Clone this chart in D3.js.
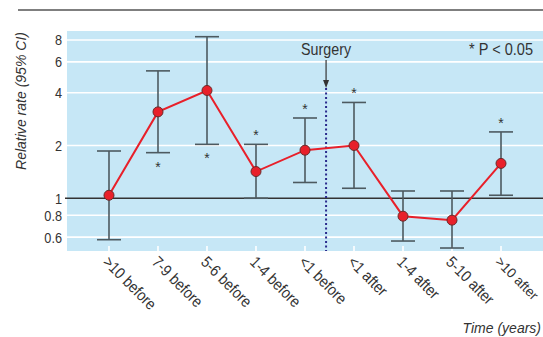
<!DOCTYPE html>
<html><head><meta charset="utf-8">
<script src="https://cdn.jsdelivr.net/npm/d3@7"></script>
<style>
body{margin:0;background:#fff;}
text{font-family:"Liberation Sans Narrow","Liberation Sans",Arial,sans-serif;fill:#333;}
</style></head>
<body><svg id="c" width="543" height="337"></svg>
<script>
const categories = [">10 before","7-9 before","5-6 before","1-4 before","<1 before","<1 after","1-4 after","5-10 after",">10 after"];
const rate  = [1.04, 3.11, 4.12, 1.42, 1.88, 2.00, 0.79, 0.75, 1.58];
const lower = [0.58, 1.82, 2.03, 1.00, 1.23, 1.14, 0.57, 0.52, 1.04];
const upper = [1.86, 5.33, 8.35, 2.03, 2.87, 3.52, 1.10, 1.10, 2.39];
const signif = ["", "below", "below", "above", "above", "above", "", "", "above"];
const yTicks = [0.6, 0.8, 1, 2, 4, 6, 8];
const yTickLabels = ["0.6","0.8","1","2","4","6","8"];
const surgeryAfterIndex = 4, surgeryFraction = 0.43;

const svg = d3.select("#c");
const L = 67, R = 543, T = 31, B = 251;
const x = d3.scalePoint().domain(categories).range([L, R]).padding(0.857);
const y = d3.scaleLog().domain([0.5, 9]).range([B, T]);

function condense(sel, f){
  sel.each(function(){
    const w = this.getComputedTextLength();
    this.setAttribute("textLength", w*f);
    this.setAttribute("lengthAdjust","spacingAndGlyphs");
  });
}
function fitTo(sel, w){
  return sel.attr("textLength", w).attr("lengthAdjust","spacingAndGlyphs");
}

// top rule
svg.append("line").attr("x1",18).attr("x2",543).attr("y1",10).attr("y2",10)
  .attr("stroke","#555").attr("stroke-width",1.6);

// background
svg.append("rect").attr("x",L).attr("y",T).attr("width",R-L).attr("height",B-T).attr("fill","#c6e7f6");

// gridlines
svg.selectAll(".grid").data(yTicks.filter(d=>d!==1)).enter().append("line")
  .attr("x1",L).attr("x2",R).attr("y1",d=>y(d)).attr("y2",d=>y(d))
  .attr("stroke","#fff").attr("stroke-width",1.6);

// y axis labels
const yAxis = d3.axisLeft(y).tickValues(yTicks).tickFormat((d,i)=>yTickLabels[i]).tickSize(0).tickPadding(5);
const ga = svg.append("g").attr("transform",`translate(${L},0)`).call(yAxis);
ga.select(".domain").remove();
ga.selectAll("text").attr("font-size",15.5).attr("fill","#333")
  .style("font-family",'"Liberation Sans Narrow","Liberation Sans",Arial,sans-serif');
condense(ga.selectAll("text"), 0.82);

// reference line at 1
svg.append("line").attr("x1",L-2).attr("x2",R).attr("y1",y(1)).attr("y2",y(1))
  .attr("stroke","#333").attr("stroke-width",1.4);

// x axis ticks (white) + labels
svg.selectAll(".xt").data(categories).enter().append("line")
  .attr("x1",d=>x(d)).attr("x2",d=>x(d)).attr("y1",B-5).attr("y2",B)
  .attr("stroke","#fff").attr("stroke-width",1.6);
const xl = svg.selectAll(".xl").data(categories).enter().append("text")
  .attr("transform",d=>`translate(${x(d)-4},${B+9}) rotate(45)`)
  .attr("font-size",16).attr("text-anchor","start").attr("dominant-baseline","middle")
  .text(d=>d);
xl.each(function(d){
  const x0 = x(d) - 4;
  const maxLen = (541 - x0) / Math.SQRT1_2 - 8;
  const natural = this.getComputedTextLength();
  if (natural * 0.88 > maxLen) {
    // shrink the font so the label stays inside the picture
    this.setAttribute("font-size", 16 * maxLen / natural);
  } else {
    this.setAttribute("textLength", natural * 0.88);
    this.setAttribute("lengthAdjust","spacingAndGlyphs");
  }
});

// surgery line
const sx = x(categories[surgeryAfterIndex]) + surgeryFraction * x.step();
svg.append("line").attr("x1",sx).attr("x2",sx).attr("y1",88).attr("y2",B)
  .attr("stroke","#2a2a8c").attr("stroke-width",2).attr("stroke-dasharray","2,2.5");
svg.append("line").attr("x1",sx).attr("x2",sx).attr("y1",60).attr("y2",82)
  .attr("stroke","#333").attr("stroke-width",1.2);
svg.append("path").attr("d",`M${sx-3},${80} L${sx+3},${80} L${sx},${88} Z`).attr("fill","#333");
fitTo(svg.append("text").attr("x",sx).attr("y",55).attr("text-anchor","middle").attr("font-size",16.5).text("Surgery"), 50);
fitTo(svg.append("text").attr("x",533).attr("y",55).attr("text-anchor","end").attr("font-size",16).text("* P < 0.05"), 64);

// error bars
const idx = d3.range(categories.length);
const eb = svg.append("g").attr("stroke","#4d5a60").attr("stroke-width",1.6);
idx.forEach(i=>{
  const cx = x(categories[i]);
  eb.append("line").attr("x1",cx).attr("x2",cx).attr("y1",y(lower[i])).attr("y2",y(upper[i]));
  eb.append("line").attr("x1",cx-12).attr("x2",cx+12).attr("y1",y(lower[i])).attr("y2",y(lower[i]));
  eb.append("line").attr("x1",cx-12).attr("x2",cx+12).attr("y1",y(upper[i])).attr("y2",y(upper[i]));
});

// stars
svg.selectAll(".star").data(idx.filter(i=>signif[i])).enter().append("text")
  .attr("x",i=>x(categories[i])).attr("text-anchor","middle").attr("font-size",14)
  .attr("y",i=>signif[i]==="above" ? y(upper[i])-4 : y(lower[i])+19)
  .text("*");

// line
svg.append("path").datum(idx)
  .attr("d",d3.line().x(i=>x(categories[i])).y(i=>y(rate[i])))
  .attr("fill","none").attr("stroke","#e8202a").attr("stroke-width",2);
svg.selectAll(".pt").data(idx).enter().append("circle")
  .attr("cx",i=>x(categories[i])).attr("cy",i=>y(rate[i])).attr("r",5)
  .attr("fill","#e8202a").attr("stroke","#6a2a2a").attr("stroke-width",1);

// axis titles
fitTo(svg.append("text").attr("transform",`translate(22,101) rotate(-90)`).attr("text-anchor","middle")
  .attr("dominant-baseline","middle").attr("font-size",15).attr("font-style","italic").text("Relative rate (95% CI)"), 138);
svg.append("text").attr("x",541).attr("y",333).attr("text-anchor","end")
  .attr("font-size",14).attr("font-style","italic").text("Time (years)");
</script></body></html>
